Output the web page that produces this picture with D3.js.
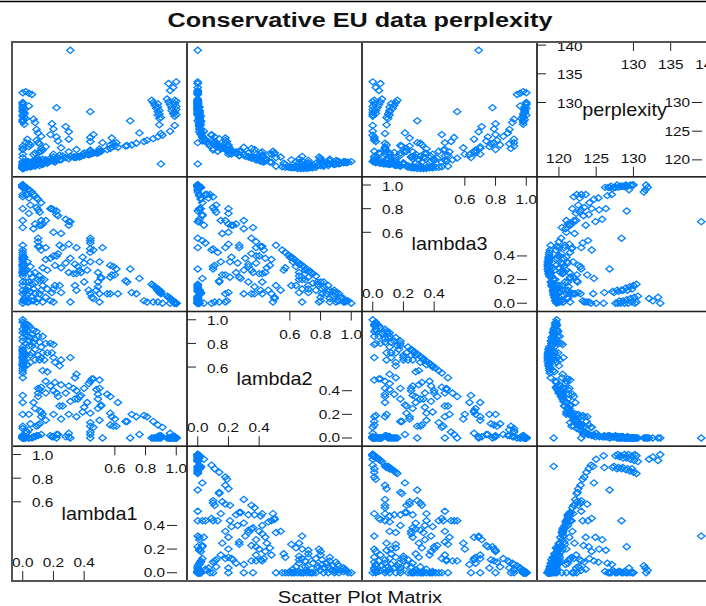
<!DOCTYPE html>
<html>
<head>
<meta charset="utf-8">
<script src="https://cdn.jsdelivr.net/npm/d3@7"></script>
<style>
  body { margin: 0; background: #fff; }
  text { font-family: Arial, "Liberation Sans", sans-serif; fill: #111; }
</style>
</head>
<body>
<div id="chart"></div>
<script>
// one entry per run, same order in all four arrays
const lambda1 = [
  0.00, 0.02, 0.04, 0.06, 0.00, 0.00, 0.00, 0.01, 0.00, 0.01,
  0.00, 0.02, 0.00, 0.04, 0.07, 0.08, 0.09, 0.10, 0.12, 0.01,
  0.02, 0.00, 0.04, 0.00, 0.03,
  0.84, 0.85, 0.86, 0.87, 0.88, 0.88, 0.89, 0.89, 0.90, 0.95,
  0.96, 0.98, 1.00, 0.94, 0.95, 0.96, 0.97, 0.97, 0.98, 0.99,
  1.00, 0.90,
  0.31, 0.22, 0.44, 0.70, 0.19, 0.20, 0.28, 0.30, 0.30, 0.22,
  0.44, 0.44, 0.44, 0.76, 0.52,
  0.00, 0.04, 0.09, 0.10, 0.11, 0.00, 0.00, 0.12, 0.13, 0.12,
  0.11, 0.18, 0.23, 0.20, 0.10, 0.10, 0.11, 0.12, 0.10, 0.00,
  0.00, 0.00, 0.00, 0.00, 0.00, 0.00, 0.00, 0.00, 0.00, 0.00,
  0.00, 0.00, 0.01, 0.01, 0.02, 0.24, 0.26, 0.30, 0.23, 0.44,
  0.39, 0.31, 0.34, 0.36, 0.37, 0.38, 0.21, 0.13, 0.16, 0.08,
  0.11, 0.05, 0.44, 0.50, 0.57, 0.59, 0.30, 0.35, 0.42, 0.49,
  0.51, 0.57, 0.61, 0.67, 0.68, 0.71, 0.74, 0.79, 0.81, 0.85,
  0.88, 0.91, 0.96, 0.99, 0.00, 0.00, 0.00, 0.02, 0.04, 0.07,
  0.09, 0.13, 0.18, 0.20, 0.20, 0.19, 0.12, 0.13, 0.21, 0.16,
  0.00, 0.00, 0.01, 0.02, 0.03, 0.00, 0.05, 0.06, 0.01, 0.03,
  0.31, 0.43, 0.44, 0.45, 0.48, 0.49, 0.50, 0.46, 0.50, 0.55,
  0.57, 0.49, 0.51, 0.34, 0.35, 0.24, 0.25,
  0.00, 0.00, 0.01, 0.00, 0.02, 0.04, 0.06, 0.08, 0.05, 0.15,
  0.25, 0.35, 0.60, 0.40, 0.46, 0.58, 0.62, 0.20, 0.25, 0.15,
  0.07, 0.08,
  0.00, 0.00, 0.00, 0.01, 0.00, 0.01, 0.00, 0.00,
  0.88, 0.88, 0.89, 0.89, 0.90, 0.99, 0.99, 1.00, 1.00, 0.99, 1.00,
  0.03, 0.05, 0.06, 0.08, 0.10, 0.12, 0.14, 0.03, 0.06, 0.10,
  0.15, 0.04, 0.02, 0.01, 0.07, 0.11,
  0.28, 0.33, 0.18, 0.22, 0.40, 0.15
]
const lambda2 = [
  0.00, 0.00, 0.00, 0.00, 0.00, 0.00, 0.01, 0.00, 0.01, 0.01,
  0.02, 0.01, 0.02, 0.00, 0.01, 0.01, 0.02, 0.02, 0.03, 0.01,
  0.06, 0.08, 0.07, 0.10, 0.05,
  0.00, 0.00, 0.00, 0.00, 0.01, 0.01, 0.01, 0.02, 0.02, 0.00,
  0.00, 0.00, 0.00, 0.00, 0.00, 0.00, 0.00, 0.01, 0.00, 0.01,
  0.00, 0.00,
  0.00, 0.00, 0.00, 0.00, 0.01, 0.01, 0.01, 0.01, 0.04, 0.03,
  0.03, 0.05, 0.10, 0.03, 0.00,
  0.20, 0.20, 0.10, 0.11, 0.12, 0.30, 0.36, 0.18, 0.20, 0.22,
  0.23, 0.02, 0.03, 0.20, 0.35, 0.38, 0.41, 0.43, 0.42, 0.51,
  0.55, 0.57, 0.59, 0.61, 0.63, 0.65, 0.67, 0.69, 0.71, 0.73,
  0.75, 0.77, 0.60, 0.66, 0.70, 0.27, 0.27, 0.20, 0.35, 0.13,
  0.22, 0.31, 0.33, 0.33, 0.35, 0.36, 0.47, 0.57, 0.56, 0.66,
  0.66, 0.70, 0.21, 0.15, 0.11, 0.10, 0.44, 0.40, 0.30, 0.25,
  0.27, 0.21, 0.10, 0.14, 0.14, 0.20, 0.18, 0.19, 0.18, 0.14,
  0.11, 0.09, 0.04, 0.01, 0.82, 0.89, 0.92, 0.96, 0.95, 0.91,
  0.90, 0.86, 0.80, 0.79, 0.68, 0.72, 0.77, 0.72, 0.64, 0.72,
  1.00, 0.98, 0.97, 0.93, 0.90, 0.85, 0.85, 0.88, 0.95, 0.96,
  0.68, 0.46, 0.48, 0.50, 0.41, 0.37, 0.42, 0.50, 0.49, 0.37,
  0.35, 0.33, 0.28, 0.51, 0.54, 0.61, 0.66,
  0.62, 0.68, 0.72, 0.74, 0.80, 0.82, 0.78, 0.84, 0.12, 0.15,
  0.16, 0.18, 0.16, 0.26, 0.09, 0.18, 0.30, 0.40, 0.45, 0.48,
  0.30, 0.25,
  0.00, 0.00, 0.01, 0.00, 0.00, 0.01, 0.01, 0.02,
  0.00, 0.01, 0.00, 0.01, 0.01, 0.00, 0.00, 0.00, 0.00, 0.01, 0.00,
  0.62, 0.64, 0.72, 0.75, 0.70, 0.68, 0.66, 0.86, 0.92, 0.86,
  0.80, 0.78, 0.88, 0.90, 0.81, 0.81,
  0.38, 0.42, 0.44, 0.38, 0.42, 0.38
]
const lambda3 = [
  1.00, 0.98, 0.96, 0.94, 1.00, 1.00, 0.99, 0.99, 0.99, 0.98,
  0.98, 0.97, 0.98, 0.96, 0.92, 0.91, 0.89, 0.88, 0.85, 0.98,
  0.92, 0.92, 0.89, 0.90, 0.92,
  0.16, 0.15, 0.14, 0.13, 0.11, 0.11, 0.10, 0.09, 0.08, 0.05,
  0.04, 0.02, 0.00, 0.06, 0.05, 0.04, 0.03, 0.02, 0.02, 0.00,
  0.00, 0.10,
  0.69, 0.78, 0.55, 0.29, 0.80, 0.79, 0.71, 0.69, 0.66, 0.75,
  0.53, 0.51, 0.46, 0.21, 0.47,
  0.80, 0.76, 0.81, 0.79, 0.77, 0.70, 0.64, 0.70, 0.67, 0.66,
  0.66, 0.80, 0.74, 0.60, 0.55, 0.52, 0.48, 0.45, 0.48, 0.49,
  0.45, 0.43, 0.41, 0.39, 0.37, 0.35, 0.33, 0.31, 0.29, 0.27,
  0.25, 0.23, 0.39, 0.33, 0.28, 0.49, 0.47, 0.50, 0.42, 0.43,
  0.39, 0.38, 0.33, 0.31, 0.28, 0.26, 0.32, 0.30, 0.28, 0.26,
  0.23, 0.25, 0.35, 0.35, 0.32, 0.31, 0.26, 0.25, 0.28, 0.26,
  0.22, 0.22, 0.29, 0.19, 0.18, 0.09, 0.08, 0.02, 0.01, 0.01,
  0.01, 0.00, 0.00, 0.00, 0.18, 0.11, 0.08, 0.02, 0.01, 0.02,
  0.01, 0.01, 0.02, 0.01, 0.12, 0.09, 0.11, 0.15, 0.15, 0.12,
  0.00, 0.02, 0.02, 0.05, 0.07, 0.15, 0.10, 0.06, 0.04, 0.01,
  0.01, 0.11, 0.08, 0.05, 0.11, 0.14, 0.08, 0.04, 0.01, 0.08,
  0.08, 0.18, 0.21, 0.15, 0.11, 0.15, 0.09,
  0.38, 0.32, 0.27, 0.26, 0.18, 0.14, 0.16, 0.08, 0.83, 0.70,
  0.59, 0.47, 0.24, 0.34, 0.45, 0.24, 0.08, 0.40, 0.30, 0.37,
  0.63, 0.67,
  1.00, 1.00, 0.99, 0.99, 1.00, 0.98, 0.99, 0.98,
  0.12, 0.11, 0.11, 0.10, 0.09, 0.01, 0.01, 0.00, 0.00, 0.00, 0.00,
  0.35, 0.31, 0.22, 0.17, 0.20, 0.20, 0.20, 0.11, 0.02, 0.04,
  0.05, 0.18, 0.10, 0.09, 0.12, 0.08,
  0.34, 0.25, 0.38, 0.40, 0.18, 0.47
]
const perplexity = [
  131.7, 131.9, 131.6, 131.4, 130.0, 129.6, 129.2, 128.8, 128.4, 128.0,
  127.6, 127.2, 126.8, 129.4, 127.1, 126.5, 125.3, 124.7, 124.1, 126.2,
  123.0, 122.4, 122.8, 122.0, 123.6,
  130.4, 130.0, 129.5, 129.0, 128.4, 127.8, 127.2, 126.1, 124.6, 133.3,
  132.1, 132.6, 133.6, 130.6, 130.1, 129.6, 129.1, 128.6, 128.1, 127.6,
  130.2, 119.3,
  139.1, 129.1, 128.4, 126.8, 126.3, 125.4, 125.8, 124.9, 123.6, 124.0,
  123.9, 123.2, 121.7, 124.7, 123.0,
  121.8, 122.3, 123.4, 123.0, 122.8, 121.0, 120.4, 122.0, 121.7, 121.5,
  121.4, 124.4, 123.3, 121.0, 120.3, 120.0, 119.8, 119.6, 119.7, 118.9,
  118.8, 118.7, 118.7, 118.6, 118.6, 118.5, 118.5, 118.5, 118.5, 118.6,
  118.6, 118.7, 118.8, 118.6, 118.7, 120.8, 120.7, 121.4, 120.3, 121.5,
  121.0, 120.6, 120.5, 120.6, 120.5, 120.6, 119.6, 119.2, 119.4, 118.9,
  119.0, 118.8, 121.1, 121.9, 122.6, 122.9, 120.2, 120.5, 121.0, 121.4,
  121.5, 122.0, 123.0, 122.4, 122.5, 122.6, 122.9, 123.2, 123.4, 123.7,
  124.0, 124.3, 125.0, 126.0, 118.9, 119.2, 119.3, 119.6, 119.7, 119.8,
  119.9, 120.1, 120.3, 120.5, 119.8, 119.9, 119.4, 119.3, 119.7, 119.5,
  119.7, 119.6, 119.5, 119.4, 119.3, 119.0, 119.3, 119.5, 119.5, 119.7,
  120.6, 120.9, 121.0, 121.1, 121.2, 121.3, 121.4, 121.2, 121.5, 121.8,
  122.0, 121.2, 121.5, 120.4, 120.5, 120.0, 120.1,
  118.7, 118.6, 118.6, 118.7, 119.0, 119.1, 119.1, 119.6, 122.6, 122.3,
  122.1, 121.8, 122.4, 121.2, 124.4, 123.8, 122.2, 119.9, 120.0, 119.6,
  120.9, 121.2,
  129.9, 129.0, 128.6, 128.2, 127.8, 127.4, 127.0, 126.6,
  129.8, 129.2, 128.6, 128.0, 127.4, 130.4, 129.8, 129.3, 128.8, 128.3, 127.9,
  118.7, 118.8, 118.9, 119.1, 119.2, 119.3, 119.5, 119.3, 119.7, 119.8,
  120.0, 119.0, 119.3, 119.3, 119.3, 119.6,
  120.4, 120.5, 119.8, 120.1, 120.8, 120.0
]

const varNames = ['lambda1', 'lambda2', 'lambda3', 'perplexity']
const lambdaLowTicks = [0.0, 0.2, 0.4]
const lambdaHighTicks = [0.6, 0.8, 1.0]
const perplexityLowTicks = [120, 125, 130]
const perplexityHighTicks = [130, 135, 140]

const chartTitle = 'Conservative EU data perplexity'
const chartCaption = 'Scatter Plot Matrix'

const width = 706
const height = 606
const gridLeft = 12
const gridTop = 42
const cellW = 175
const cellH = 134.75
const n = 4
const pointColor = '#0080ff'

const columns = [lambda1, lambda2, lambda3, perplexity]
const lowTicks = [lambdaLowTicks, lambdaLowTicks, lambdaLowTicks, perplexityLowTicks]
const highTicks = [lambdaHighTicks, lambdaHighTicks, lambdaHighTicks, perplexityHighTicks]
const fmt = [d3.format('.1f'), d3.format('.1f'), d3.format('.1f'), d3.format('d')]

// lattice pads each range by 7%
const domains = columns.map((col) => {
  const [lo, hi] = d3.extent(col)
  const pad = (hi - lo) * 0.07
  return [lo - pad, hi + pad]
})

// variable k sits in column k and in row (n - 1 - k)
const xScales = domains.map((dom, k) =>
  d3.scaleLinear().domain(dom).range([gridLeft + k * cellW, gridLeft + (k + 1) * cellW])
)
const yScales = domains.map((dom, k) => {
  const row = n - 1 - k
  return d3.scaleLinear().domain(dom).range([gridTop + (row + 1) * cellH, gridTop + row * cellH])
})

const svg = d3
  .select('#chart')
  .append('svg')
  .attr('width', width)
  .attr('height', height)
  .style('display', 'block')

svg.append('rect').attr('width', width).attr('height', height).attr('fill', '#fff')

// thin rule along the very top of the image
svg
  .append('line')
  .attr('x1', 0)
  .attr('x2', width)
  .attr('y1', 1.5)
  .attr('y2', 1.5)
  .attr('stroke', '#000')
  .attr('stroke-width', 1.5)

// the text in the picture is stretched sideways, so scale it on x
function addText(parent, x, y, str, size, anchor, sx, weight) {
  return parent
    .append('text')
    .attr('transform', `translate(${x},${y}) scale(${sx},1)`)
    .attr('text-anchor', anchor)
    .attr('font-size', size)
    .attr('font-weight', weight || 'normal')
    .text(str)
}

addText(svg, 360, 26.5, chartTitle, 21, 'middle', 1.2, 'bold')
addText(svg, 360, 602.5, chartCaption, 16.5, 'middle', 1.22)

const defs = svg.append('defs')

function diamond(x, y) {
  return `M${x - 3.7},${y}L${x},${y - 3.1}L${x + 3.7},${y}L${x},${y + 3.1}Z`
}

for (let row = 0; row < n; row++) {
  for (let c = 0; c < n; c++) {
    const x0 = gridLeft + c * cellW
    const y0 = gridTop + row * cellH
    const clipId = `clip-${row}-${c}`
    defs
      .append('clipPath')
      .attr('id', clipId)
      .append('rect')
      .attr('x', x0)
      .attr('y', y0)
      .attr('width', cellW)
      .attr('height', cellH)

    const g = svg.append('g').attr('clip-path', `url(#${clipId})`)
    const yVar = n - 1 - row

    if (yVar === c) {
      // diagonal panel: name and split axes
      const xs = xScales[c]
      const ys = yScales[c]
      const x1 = x0 + cellW
      const y1 = y0 + cellH
      const f = fmt[c]

      addText(g, x0 + cellW / 2, y0 + cellH / 2 + 6.3, varNames[c], 18, 'middle', 1.1)

      // left side: upper ticks
      highTicks[c].forEach((t) => {
        g.append('line')
          .attr('x1', x0).attr('x2', x0 + 9)
          .attr('y1', ys(t)).attr('y2', ys(t))
          .attr('stroke', '#222')
        addText(g, x0 + 20, ys(t) + 5.5, f(t), 12, 'start', 1.28)
      })
      // right side: lower ticks
      lowTicks[c].forEach((t) => {
        g.append('line')
          .attr('x1', x1 - 20).attr('x2', x1 - 10)
          .attr('y1', ys(t)).attr('y2', ys(t))
          .attr('stroke', '#222')
        addText(g, x1 - 22, ys(t) + 4.5, f(t), 12, 'end', 1.28)
      })
      // top: upper ticks
      highTicks[c].forEach((t) => {
        g.append('line')
          .attr('x1', xs(t)).attr('x2', xs(t))
          .attr('y1', y0).attr('y2', y0 + 9)
          .attr('stroke', '#222')
        addText(g, xs(t), y0 + 27, f(t), 12, 'middle', 1.28)
      })
      // bottom: lower ticks
      lowTicks[c].forEach((t) => {
        g.append('line')
          .attr('x1', xs(t)).attr('x2', xs(t))
          .attr('y1', y1 - 10).attr('y2', y1)
          .attr('stroke', '#222')
        addText(g, xs(t), y1 - 14, f(t), 12, 'middle', 1.28)
      })
    } else {
      const xs = xScales[c]
      const ys = yScales[yVar]
      const xCol = columns[c]
      const yCol = columns[yVar]
      g.selectAll('path')
        .data(d3.range(xCol.length))
        .enter()
        .append('path')
        .attr('d', (i) => diamond(xs(xCol[i]), ys(yCol[i])))
        .attr('fill', 'none')
        .attr('stroke', pointColor)
        .attr('stroke-width', 1.3)
    }

    svg
      .append('rect')
      .attr('x', x0)
      .attr('y', y0)
      .attr('width', cellW)
      .attr('height', cellH)
      .attr('fill', 'none')
      .attr('stroke', '#222')
      .attr('stroke-width', 1.3)
  }
}

// outer frame is a little heavier and greyer
svg
  .append('rect')
  .attr('x', gridLeft)
  .attr('y', gridTop)
  .attr('width', n * cellW)
  .attr('height', n * cellH)
  .attr('fill', 'none')
  .attr('stroke', '#555')
  .attr('stroke-width', 2)
</script>
</body>
</html>
